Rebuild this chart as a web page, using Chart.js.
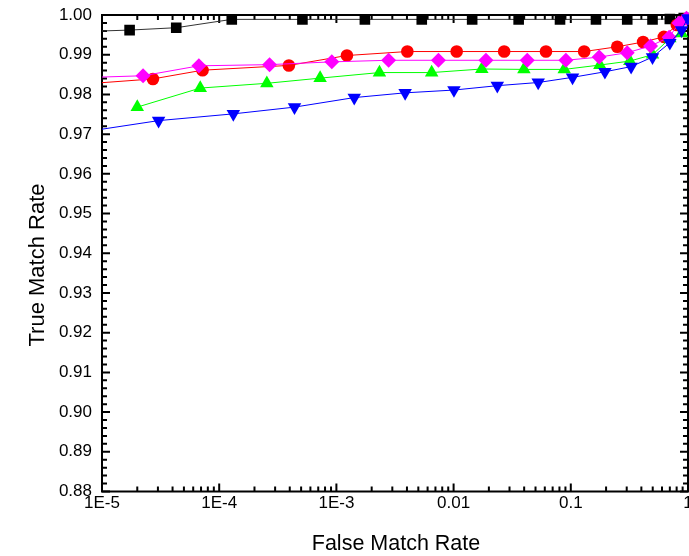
<!DOCTYPE html>
<html>
<head>
<meta charset="utf-8">
<script src="https://cdn.jsdelivr.net/npm/chart.js@4.4.1/dist/chart.umd.min.js"></script>
<style>
html, body { margin: 0; padding: 0; background: #fff; }
</style>
</head>
<body>
<canvas id="chart" width="689" height="556"></canvas>
<script>
// tick labels
const xTickValues = [1e-5, 1e-4, 1e-3, 0.01, 0.1, 1];
const xTickLabels = ['1E-5', '1E-4', '1E-3', '0.01', '0.1', '1'];
const yTickLabels = ['0.88', '0.89', '0.90', '0.91', '0.92', '0.93', '0.94',
                     '0.95', '0.96', '0.97', '0.98', '0.99', '1.00'];
const xTitle = 'False Match Rate';
const yTitle = 'True Match Rate';

// series (x = false match rate, y = true match rate)
const blackX = [5e-6, 1.72e-5, 4.30e-5, 1.28e-4, 5.13e-4, 1.75e-3, 5.35e-3, 0.0144, 0.0359, 0.0809, 0.164, 0.303, 0.498, 0.70, 0.92];
const blackY = [0.9957, 0.9962, 0.9968, 0.9989, 0.9989, 0.9989, 0.9989, 0.9989, 0.9989, 0.9989, 0.9989, 0.9989, 0.9989, 0.9990, 0.9992];

const redX = [5e-6, 2.72e-5, 7.21e-5, 3.93e-4, 1.23e-3, 4.03e-3, 0.01062, 0.0270, 0.0614, 0.130, 0.249, 0.414, 0.622, 0.803, 0.96];
const redY = [0.9823, 0.9839, 0.9861, 0.9873, 0.9898, 0.9908, 0.9908, 0.9908, 0.9908, 0.9908, 0.9920, 0.9932, 0.9945, 0.9975, 0.9990];

const magentaX = [5e-6, 2.24e-5, 6.71e-5, 2.69e-4, 9.14e-4, 2.79e-3, 7.42e-3, 0.01888, 0.0425, 0.0908, 0.1746, 0.3027, 0.479, 0.690, 0.839, 0.97];
const magentaY = [0.9841, 0.9847, 0.9872, 0.9875, 0.9882, 0.9886, 0.9886, 0.9886, 0.9886, 0.9886, 0.9894, 0.9905, 0.9922, 0.9944, 0.9980, 0.9992];

const greenX = [2.0e-5, 6.89e-5, 2.55e-4, 7.26e-4, 2.33e-3, 6.50e-3, 0.0174, 0.0398, 0.0879, 0.177, 0.319, 0.498, 0.70, 0.881];
const greenY = [0.9768, 0.9816, 0.9828, 0.9841, 0.9855, 0.9855, 0.9864, 0.9863, 0.9863, 0.9874, 0.9884, 0.9900, 0.9941, 0.9954];

const blueX = [5e-6, 3.04e-5, 1.32e-4, 4.39e-4, 1.42e-3, 3.86e-3, 0.01007, 0.0236, 0.0527, 0.1035, 0.1955, 0.327, 0.498, 0.70, 0.881, 0.995];
const blueY = [0.9699, 0.9734, 0.9751, 0.9768, 0.9792, 0.9804, 0.9811, 0.9822, 0.9830, 0.9843, 0.9857, 0.9870, 0.9894, 0.9930, 0.9962, 0.9992];

const FONT = "'Liberation Sans', Arial, sans-serif";

function points(xs, ys) {
    return xs.map((x, i) => ({ x: x, y: ys[i] }));
}

// points left of the axis only carry the line in, no marker
function series(xs, ys, color, lineColor, style, radius, rotation) {
    return {
        data: points(xs, ys),
        borderColor: lineColor,
        backgroundColor: color,
        borderWidth: 1,
        pointStyle: style,
        pointRotation: rotation || 0,
        pointRadius: ctx => (ctx.raw && ctx.raw.x < 1e-5 ? 0 : radius),
        pointBorderWidth: 0,
        pointBackgroundColor: color,
        tension: 0,
        fill: false,
        clip: { left: 0, top: 12, right: 12, bottom: 0 }
    };
}

// frame with inward ticks on all four sides, plus the axis titles
const framePlugin = {
    id: 'frame',
    beforeDatasetsDraw(chart) {
        const { ctx, chartArea: a, scales } = chart;
        const xs = scales.x, ys = scales.y;
        ctx.save();
        ctx.strokeStyle = '#000';
        ctx.lineWidth = 2;
        ctx.beginPath();
        for (let d = -5; d <= 0; d++) {
            for (let k = 1; k <= 9; k++) {
                const v = k * Math.pow(10, d);
                if (v > 1.0001) break;
                const px = xs.getPixelForValue(v);
                const len = k === 1 ? 8 : 5;
                ctx.moveTo(px, a.bottom);
                ctx.lineTo(px, a.bottom - len);
                ctx.moveTo(px, a.top);
                ctx.lineTo(px, a.top + len);
            }
        }
        for (let i = 0; i <= 60; i++) {
            const py = ys.getPixelForValue(0.88 + i * 0.002);
            const len = i % 5 === 0 ? 8 : 5;
            ctx.moveTo(a.left, py);
            ctx.lineTo(a.left + len, py);
            ctx.moveTo(a.right, py);
            ctx.lineTo(a.right - len, py);
        }
        ctx.stroke();
        ctx.strokeRect(a.left, a.top, a.right - a.left, a.bottom - a.top);
        ctx.restore();
    },
    afterDraw(chart) {
        const ctx = chart.ctx;
        ctx.save();
        ctx.fillStyle = '#000';
        ctx.textAlign = 'center';
        ctx.textBaseline = 'alphabetic';
        ctx.font = '21.5px ' + FONT;
        ctx.fillText(xTitle, 396, 550);
        ctx.translate(44, 265);
        ctx.rotate(-Math.PI / 2);
        ctx.font = '22px ' + FONT;
        ctx.fillText(yTitle, 0, 0);
        ctx.restore();
    }
};

const ctx = document.getElementById('chart').getContext('2d');
new Chart(ctx, {
    type: 'line',
    data: {
        datasets: [
            series(blueX, blueY, '#0000ff', '#0000ff', 'triangle', 7.8, 180),
            series(magentaX, magentaY, '#ff00ff', '#ff00ff', 'rectRot', 7.5),
            series(greenX, greenY, '#00ff00', '#00ff00', 'triangle', 7.8),
            series(redX, redY, '#ff0000', '#ff0000', 'circle', 6.3),
            series(blackX, blackY, '#000000', '#333333', 'rect', 7.5)
        ]
    },
    options: {
        responsive: false,
        animation: false,
        layout: {
            autoPadding: false,
            padding: { top: 15, right: 1, bottom: 0, left: 0 }
        },
        plugins: {
            legend: { display: false },
            tooltip: { enabled: false }
        },
        scales: {
            x: {
                type: 'logarithmic',
                min: 1e-5,
                max: 1,
                grid: { display: false, drawTicks: false },
                border: { display: false },
                afterBuildTicks: s => { s.ticks = xTickValues.map(v => ({ value: v })); },
                afterFit: s => {
                    s.height = 64.5;
                    s.paddingLeft = 0;
                    s.paddingRight = 0;
                },
                ticks: {
                    autoSkip: false,
                    maxRotation: 0,
                    padding: 2,
                    color: '#000',
                    font: { family: FONT, size: 17 },
                    callback: (v, i) => xTickLabels[i]
                },
                title: { display: false }
            },
            y: {
                min: 0.88,
                max: 1.0,
                grid: { display: false, drawTicks: false },
                border: { display: false },
                afterBuildTicks: s => { s.ticks = yTickLabels.map(t => ({ value: parseFloat(t) })); },
                afterFit: s => {
                    s.width = 102;
                    s.paddingTop = 0;
                    s.paddingBottom = 0;
                },
                ticks: {
                    padding: 10,
                    color: '#000',
                    font: { family: FONT, size: 17 },
                    callback: (v, i) => yTickLabels[i]
                },
                title: { display: false }
            }
        }
    },
    plugins: [framePlugin]
});
</script>
</body>
</html>
